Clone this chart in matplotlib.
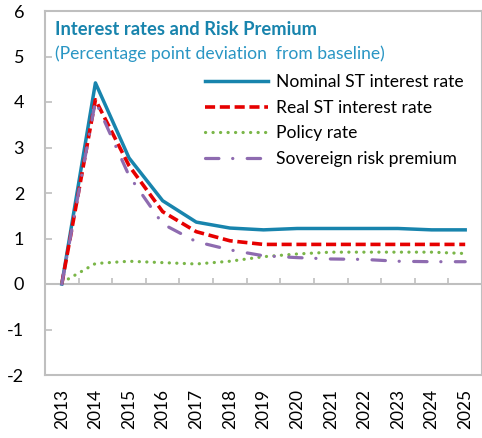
import matplotlib
matplotlib.use('Agg')
import matplotlib.pyplot as plt
import numpy as np

years = ['2013', '2014', '2015', '2016', '2017', '2018', '2019',
         '2020', '2021', '2022', '2023', '2024', '2025']
nominal = [0, 4.42, 2.77, 1.83, 1.36, 1.23, 1.19, 1.22, 1.22, 1.22, 1.22, 1.19, 1.19]
real = [0, 4.05, 2.6, 1.59, 1.15, 0.95, 0.87, 0.87, 0.87, 0.87, 0.87, 0.87, 0.87]
policy = [0.03, 0.45, 0.5, 0.47, 0.44, 0.5, 0.6, 0.66, 0.7, 0.7, 0.7, 0.7, 0.67]
sovereign = [0, 4.02, 2.38, 1.32, 0.93, 0.75, 0.62, 0.58, 0.55, 0.54, 0.5, 0.49, 0.49]

plt.rcParams['font.family'] = ['Lato', 'DejaVu Sans']
plt.rcParams['axes.unicode_minus'] = False
grey = '#bfbfbf'
blue = '#1884ad'

fig = plt.figure(figsize=(4.82, 4.38), dpi=100)
ax = fig.add_axes([45/482, 1-375/438, 1-45/482, 364/438])
x = np.arange(len(years))

ax.plot(x, nominal, color=blue, lw=2.5, label='Nominal ST interest rate')
ax.plot(x, real, color='#e60000', lw=2.6, ls=(0, (2.8, 1.3)), label='Real ST interest rate')
ax.plot(x, policy, color='#7ab648', lw=2.3, ls=(0, (0.05, 2.3)), dash_capstyle='round',
        label='Policy rate')
ax.plot(x, sovereign, color='#8e6bb0', lw=2.3, ls=(0, (4.2, 4.3, 0.05, 4.5)),
        dash_capstyle='round', label='Sovereign risk premium')

ax.set_xlim(-0.5, len(years) - 0.5)
ax.set_ylim(-2, 6)
ax.set_yticks(range(-2, 7))
ax.set_xticks(x)
ax.set_xticklabels(years, rotation=90)
ax.tick_params(axis='x', length=0, pad=10, labelsize=12.5)
ax.tick_params(axis='y', direction='in', length=5, color=grey, width=1.2, labelsize=13, pad=15)
for s in ax.spines.values():
    s.set_color(grey)
    s.set_linewidth(1.5)

# zero axis with category boundary ticks
ax.axhline(0, color=grey, lw=1.5, zorder=1)
ax.vlines(x[:-1] + 0.5, 0, 0.14, color=grey, lw=1.2, zorder=1)

ax.text(0.022, 0.972, 'Interest rates and Risk Premium', transform=ax.transAxes,
        color=blue, fontsize=13.2, fontweight='bold', va='top')
ax.text(0.022, 0.906, '(Percentage point deviation  from baseline)', transform=ax.transAxes,
        color='#2a96c4', fontsize=12.6, va='top')

ax.legend(loc='upper right', bbox_to_anchor=(0.985, 0.86), frameon=False, fontsize=12.6,
          handlelength=3.6, handletextpad=0.45, labelspacing=0.55, borderaxespad=0.3)

fig.savefig('out.png', dpi=100)
